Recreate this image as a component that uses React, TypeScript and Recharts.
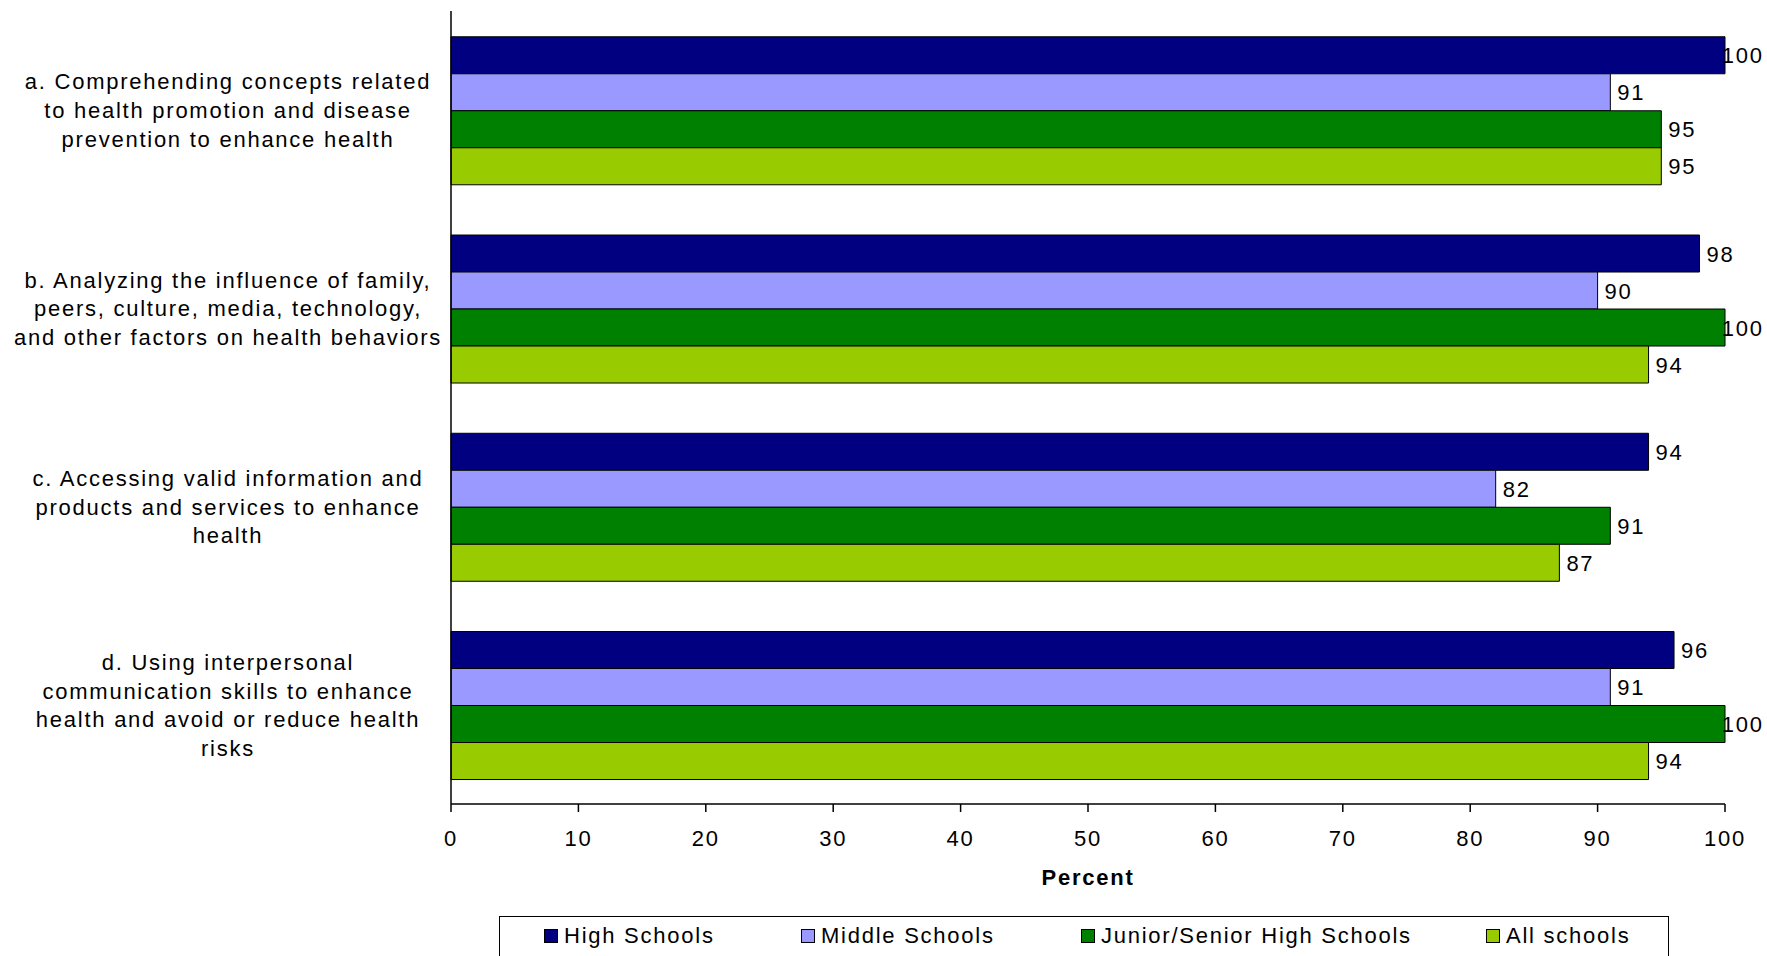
import React from 'react';
import { BarChart, Bar, XAxis, YAxis, Legend, LabelList } from 'recharts';

const categoryKeys = ['a', 'b', 'c', 'd'];
const categoryLines: string[][] = [
  ['a. Comprehending concepts related', 'to health promotion and disease', 'prevention to enhance health'],
  ['b. Analyzing the influence of family,', 'peers, culture, media, technology,', 'and other factors on health behaviors'],
  ['c. Accessing valid information and', 'products and services to enhance', 'health'],
  ['d. Using interpersonal', 'communication skills to enhance', 'health and avoid or reduce health', 'risks'],
];
const highSchools = [100, 98, 94, 96];
const middleSchools = [91, 90, 82, 91];
const juniorSeniorHigh = [95, 100, 91, 100];
const allSchools = [95, 94, 87, 94];
const xTicks = [0, 10, 20, 30, 40, 50, 60, 70, 80, 90, 100];

const seriesNames = ['High Schools', 'Middle Schools', 'Junior/Senior High Schools', 'All schools'];
const seriesKeys = ['hs', 'ms', 'jsh', 'all'];
const seriesColors = ['#000080', '#9999FF', '#008000', '#99CC00'];

const data = categoryKeys.map((k, i) => ({
  key: k,
  hs: highSchools[i],
  ms: middleSchools[i],
  jsh: juniorSeniorHigh[i],
  all: allSchools[i],
}));

const W = 1767;
const H = 956;
const FONT = 22;
const SPACING = 1.75;
const LINE_H = 28.7;
const legendItemLeft = [44, 301, 581, 986];

const CategoryTick = (props: any) => {
  const { y, payload } = props;
  const idx = categoryKeys.indexOf(payload.value);
  const lines = categoryLines[idx] || [];
  const n = lines.length;
  const first = y - ((n - 1) / 2) * LINE_H + 8;
  return (
    <text x={228} y={first} textAnchor="middle" fontSize={FONT} fill="#000">
      {lines.map((l, i) => (
        <tspan key={i} x={228} y={first + i * LINE_H}>
          {l}
        </tspan>
      ))}
    </text>
  );
};

const ValueLabel = (props: any) => {
  const { x, y, width, height, value } = props;
  const end = Number(x) + Number(width);
  const len = String(value).length;
  const textW = len * 0.556 * FONT + (len - 1) * SPACING;
  const left = Math.min(end + 7, W - 5 - textW);
  return (
    <text x={left} y={Number(y) + Number(height) / 2 + 8} textAnchor="start" fontSize={FONT} fill="#000">
      {value}
    </text>
  );
};

const LegendContent = () => (
  <div
    style={{
      position: 'relative',
      width: 1170,
      height: 40,
      boxSizing: 'border-box',
      borderTop: '1px solid #000',
      borderLeft: '1px solid #000',
      borderRight: '1px solid #000',
      fontSize: FONT,
      fontFamily: '"Liberation Sans", Arial, sans-serif',
      color: '#000',
    }}
  >
    {seriesNames.map((name, i) => (
      <div key={name} style={{ position: 'absolute', left: legendItemLeft[i], top: 0, height: 38, display: 'flex', alignItems: 'center', whiteSpace: 'nowrap' }}>
        <span style={{ display: 'inline-block', width: 14, height: 14, boxSizing: 'border-box', border: '1px solid #000', background: seriesColors[i], marginRight: 6 }} />
        <span style={{ lineHeight: '38px' }}>{name}</span>
      </div>
    ))}
  </div>
);

export default function App() {
  return (
    <div
      style={{
        position: 'absolute',
        left: 0,
        top: 0,
        width: W,
        height: H,
        background: '#fff',
        letterSpacing: `${SPACING}px`,
        fontFamily: '"Liberation Sans", Arial, sans-serif',
      }}
    >
      <BarChart
        width={W}
        height={H}
        data={data}
        layout="vertical"
        margin={{ top: 11, right: 42, left: 0, bottom: 0 }}
        barCategoryGap="13%"
        barGap={0}
        style={{ fontFamily: '"Liberation Sans", Arial, sans-serif' }}
      >
        <XAxis
          type="number"
          domain={[0, 100]}
          ticks={xTicks}
          interval={0}
          height={112}
          tickSize={8}
          tickMargin={18}
          axisLine={{ stroke: '#000', strokeWidth: 1.5 }}
          tickLine={{ stroke: '#000', strokeWidth: 1.5 }}
          tick={{ fill: '#000', fontSize: FONT }}
          label={{ value: 'Percent', position: 'insideBottom', offset: 31, fill: '#000', fontSize: FONT, fontWeight: 'bold' }}
        />
        <YAxis
          type="category"
          dataKey="key"
          width={451}
          tickLine={false}
          axisLine={{ stroke: '#000', strokeWidth: 1.5 }}
          tick={<CategoryTick />}
          interval={0}
        />
        <Legend
          verticalAlign="bottom"
          content={<LegendContent />}
          wrapperStyle={{ left: 499, width: 1170, bottom: 0 }}
        />
        {seriesKeys.map((k, i) => (
          <Bar key={k} dataKey={k} name={seriesNames[i]} fill={seriesColors[i]} stroke="#000" strokeWidth={1} isAnimationActive={false}>
            <LabelList dataKey={k} content={<ValueLabel />} />
          </Bar>
        ))}
      </BarChart>
    </div>
  );
}
